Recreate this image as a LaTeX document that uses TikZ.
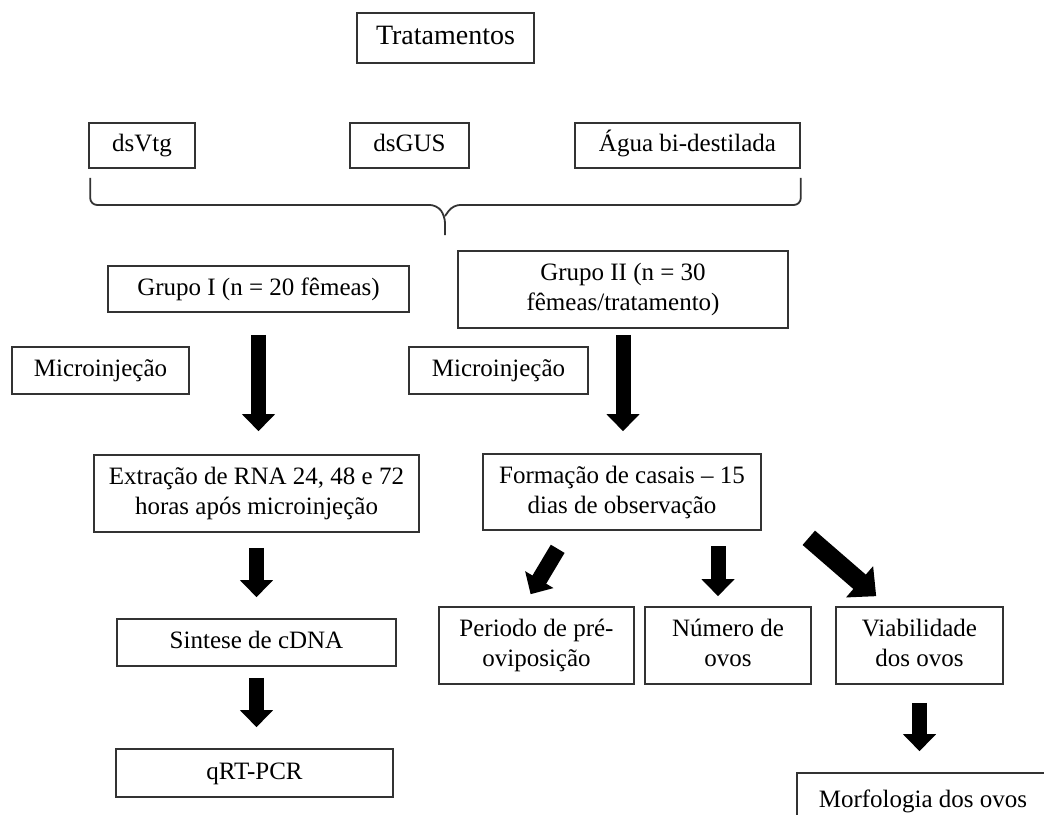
\documentclass[tikz,border=0pt]{standalone}
\usepackage{fontspec}
\setmainfont{Liberation Serif}
\usetikzlibrary{arrows.meta,calc}
\begin{document}
\begin{tikzpicture}[x=1pt,y=-1pt,
  box/.style={draw=black!80, line width=1.6pt, fill=white, inner sep=0pt, align=center,
    font=\fontsize{25}{30}\selectfont},
  bigarrow/.style={line width=15pt, -{Triangle[length=17pt,width=32pt]}},
  fatarrow/.style={line width=19pt, -{Triangle[length=22pt,width=40pt]}},
  bracestyle/.style={draw=black!80, line width=1.8pt, rounded corners=7pt}]
\useasboundingbox (0,0) rectangle (1044,814);
\clip (0,0) rectangle (1044,814);
\fill[white] (0,0) rectangle (1044,814);

% nodes
\node[box, minimum width=177pt, minimum height=50pt, font=\fontsize{28}{33}\selectfont] (trat) at (445.5,38) {\strut Tratamentos};
\node[box, minimum width=106pt, minimum height=45pt] (dsvtg) at (142,145.5) {\strut dsVtg};
\node[box, minimum width=119pt, minimum height=45pt] (dsgus) at (409.5,145.5) {\strut dsGUS};
\node[box, minimum width=225pt, minimum height=45pt] (agua) at (687.5,145.5) {\strut Água bi-destilada};
\node[box, minimum width=301pt, minimum height=46pt] (g1) at (258.5,289) {\strut Grupo I (n = 20 fêmeas)};
\node[box, minimum width=330pt, minimum height=77pt] (g2) at (623,289.5) {\strut Grupo II (n = 30\\\strut fêmeas/tratamento)};
\node[box, minimum width=177pt, minimum height=47pt] (mic1) at (100.5,370.5) {\strut Microinjeção};
\node[box, minimum width=179pt, minimum height=47pt] (mic2) at (498.5,370.5) {\strut Microinjeção};
\node[box, minimum width=325pt, minimum height=77pt] (extr) at (256.5,493.5) {\strut Extração de RNA 24, 48 e 72\\\strut horas após microinjeção};
\node[box, minimum width=278pt, minimum height=76pt] (form) at (622,492) {\strut Formação de casais -- 15\\\strut dias de observação};
\node[box, minimum width=279pt, minimum height=47pt] (sint) at (256.5,642.5) {\strut Sintese de cDNA};
\node[box, minimum width=277pt, minimum height=48pt] (qrt) at (254.5,773) {\strut qRT-PCR};
\node[box, minimum width=195pt, minimum height=77pt] (per) at (536.5,645.5) {\strut Periodo de pré-\\\strut oviposição};
\node[box, minimum width=166pt, minimum height=77pt] (num) at (728,645.5) {\strut Número de\\\strut ovos};
\node[box, minimum width=167pt, minimum height=77pt] (via) at (919.5,645.5) {\strut Viabilidade\\\strut dos ovos};
\node[box, minimum width=252pt, minimum height=56pt] (morf) at (923,801) {\strut Morfologia dos ovos};

% brace
\coordinate (bl) at ($(dsvtg.south west)+(2,9)$);
\coordinate (br) at ($(agua.south east)+(0,9)$);
\coordinate (bt) at (445,235);
\draw[bracestyle] (bl) -- (bl |- 0,205) -- (437,205) -- (445,216) -- (bt);
\draw[bracestyle] (445,216) -- (453,205) -- (br |- 0,205) -- (br);

% arrows
\draw[bigarrow, shorten <=22pt, shorten >=23pt] (g1.south) -- (g1.south |- extr.north);
\draw[bigarrow, shorten <=6pt, shorten >=22pt] (g2.south) -- (g2.south |- form.north);
\draw[bigarrow, shorten <=15pt, shorten >=21pt] (extr.south) -- (extr.south |- sint.north);
\draw[bigarrow, shorten <=11pt, shorten >=21pt] (sint.south) -- (sint.south |- qrt.north);
\draw[bigarrow, shorten <=18pt, shorten >=21pt] (via.south) -- (via.south |- morf.north);

\coordinate (d1s) at ($(form.south west)!0.27!(form.south east)+(0,18)$);
\coordinate (d1e) at ($(per.north west)!0.47!(per.north east)+(0,-12)$);
\draw[bigarrow, line width=16pt] (d1s) -- (d1e);

\coordinate (m1) at ($(num.north)+(-10,-60)$);
\coordinate (m2) at ($(num.north)+(-10,-10)$);
\draw[bigarrow] (m1) -- (m2);

\coordinate (d3s) at ($(form.south east)+(47,7)$);
\coordinate (d3e) at ($(via.north west)+(41,-10)$);
\draw[fatarrow] (d3s) -- (d3e);
\end{tikzpicture}
\end{document}
